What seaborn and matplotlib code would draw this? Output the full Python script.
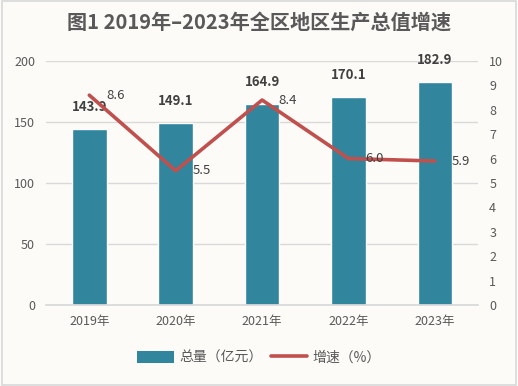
import numpy as np
import pandas as pd
import matplotlib
matplotlib.use("Agg")
import matplotlib.pyplot as plt
import seaborn as sns
from matplotlib.lines import Line2D
from matplotlib.patches import Patch, Rectangle

years = ["2019年", "2020年", "2021年", "2022年", "2023年"]
totals = [143.9, 149.1, 164.9, 170.1, 182.9]
growth = [8.6, 5.5, 8.4, 6.0, 5.9]
title = "图1 2019年–2023年全区地区生产总值增速"
legend_labels = ["总量（亿元）", "增速（%）"]

sns.set_theme(style="white")
plt.rcParams['font.family'] = ['Noto Sans CJK SC', 'DejaVu Sans']

bar_color = "#31859C"
line_color = "#C0504D"
text_color = "#595959"

fig = plt.figure(figsize=(5.18, 3.86), dpi=100)
fig.patch.set_facecolor("#fdfbf8")
ax = fig.add_axes([0.089, 0.21, 0.834, 0.632])
ax.set_facecolor("none")

df = pd.DataFrame({"year": years, "total": totals, "growth": growth})
sns.barplot(data=df, x="year", y="total", color=bar_color, width=0.4,
            saturation=1, ax=ax, zorder=2)
ax.set_ylim(0, 200)
ax.set_yticks(range(0, 201, 50))
ax.set_xlim(-0.5, 4.5)
ax.set_xlabel("")
ax.set_ylabel("")
ax.yaxis.grid(True, color="#d9d9d9", linewidth=1)
ax.set_axisbelow(True)
for s in ["top", "right", "left"]:
    ax.spines[s].set_visible(False)
ax.spines["bottom"].set_color("#d9d9d9")
ax.tick_params(axis="y", length=0, labelsize=9, colors=text_color, pad=8)
ax.tick_params(axis="x", length=0, labelsize=9, colors=text_color, pad=7)

for i, v in enumerate(totals):
    ax.annotate(f"{v:.1f}", (i, v), xytext=(0, 11), textcoords="offset points",
                ha="center", va="bottom", fontsize=9.5, fontweight="bold", color="#404040")

ax2 = ax.twinx()
sns.lineplot(x=np.arange(len(years)), y=growth, ax=ax2, color=line_color,
             linewidth=2.6, zorder=3)
ax2.set_ylim(0, 10)
ax2.set_yticks(range(0, 11, 1))
ax2.set_xlim(-0.5, 4.5)
for s in ["top", "right", "left", "bottom"]:
    ax2.spines[s].set_visible(False)
ax2.tick_params(axis="y", length=0, labelsize=9, colors=text_color, pad=8)
for i, v in enumerate(growth):
    ax2.annotate(f"{v:.1f}", (i, v), xytext=(12, 0), textcoords="offset points",
                 ha="left", va="center", fontsize=9.5, color="#404040")

fig.text(0.5, 0.943, title, ha="center", va="center", fontsize=14.5,
         fontweight="bold", color=text_color)

handles = [Patch(facecolor=bar_color, edgecolor="none"),
           Line2D([0], [0], color=line_color, linewidth=2.6)]
fig.legend(handles, legend_labels, loc="center", bbox_to_anchor=(0.5, 0.073),
           ncol=2, frameon=False, fontsize=10, labelcolor=text_color,
           handlelength=2.6, handleheight=1.0, columnspacing=0.6, handletextpad=0.4)

fig.add_artist(Rectangle((0.003, 0.003), 0.994, 0.994, transform=fig.transFigure,
                         fill=False, edgecolor="#d9d9d9", linewidth=1.2))

fig.savefig("out.png", dpi=100, facecolor=fig.get_facecolor())
